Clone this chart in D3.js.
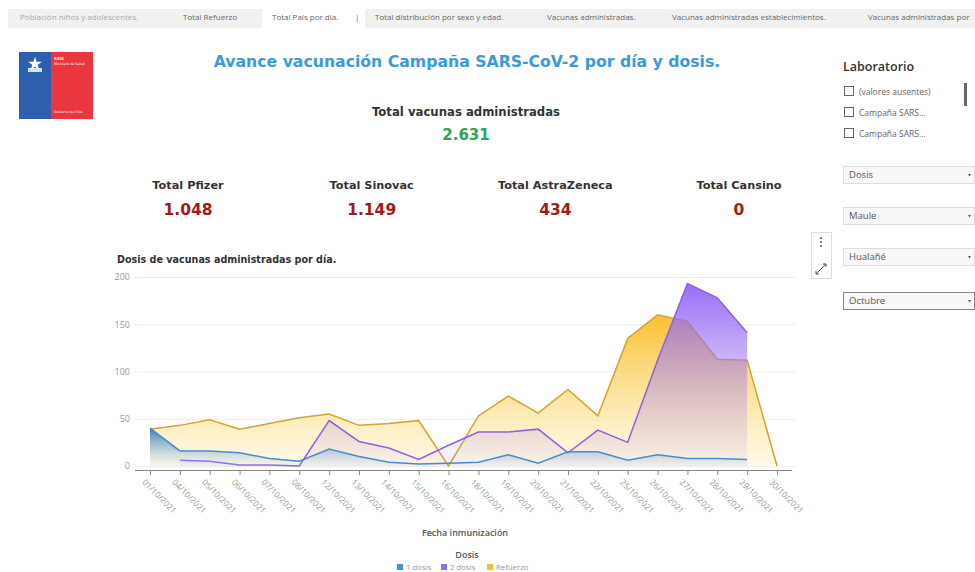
<!DOCTYPE html>
<html>
<head>
<meta charset="utf-8">
<script src="https://cdn.jsdelivr.net/npm/d3@7"></script>
<style>
  body { margin: 0; background: #fff; }
  svg { display: block; }
</style>
</head>
<body>
<svg id="page" width="975" height="572"></svg>
<script>
// Fechas con registros (eje categórico)
const fechas = ["01/10/2021", "04/10/2021", "05/10/2021", "06/10/2021", "07/10/2021", "08/10/2021",
  "12/10/2021", "13/10/2021", "14/10/2021", "15/10/2021", "16/10/2021", "18/10/2021", "19/10/2021",
  "20/10/2021", "21/10/2021", "22/10/2021", "25/10/2021", "26/10/2021", "27/10/2021", "28/10/2021",
  "29/10/2021", "30/10/2021"];

// Dosis por día (null = sin dato)
const dosis1 = [40, 16, 16, 14, 8, 5, 18, 10, 4, 2, 3, 4, 12, 3, 15, 15, 6, 12, 8, 8, 7, null];
const dosis2 = [null, 6, 5, 1, 1, 0, 48, 26, 19, 7, 22, 36, 36, 39, 14, 38, 25, 112, 193, 178, 141, null];
const refuerzo = [39, 43, 49, 39, 45, 51, 55, 43, 45, 48, 0, 53, 74, 56, 81, 53, 135, 160, 153, 113, 112, 0];

const yTicks = [0, 50, 100, 150, 200];

const kpiLabels = ["Total Pfizer", "Total Sinovac", "Total AstraZeneca", "Total Cansino"];
const kpiValues = ["1.048", "1.149", "434", "0"];
const totalVacunas = "2.631";

const tabs = ["Población niños y adolescentes.", "Total Refuerzo", "Total País por día.", "|",
  "Total distribución por sexo y edad.", "Vacunas administradas.",
  "Vacunas administradas establecimientos.", "Vacunas administradas por"];
const tabX = [20, 183, 272, 355, 375, 547, 672, 868];

const laboratorios = ["(valores ausentes)", "Campaña SARS...", "Campaña SARS..."];
const filtros = ["Dosis", "Maule", "Hualañé", "Octubre"];
const filtroY = [166, 207, 248, 292];

const series = [
  { name: "Refuerzo", values: refuerzo, line: "#d4a42e", top: "#f8bd24", bottom: "#fff6d8", op0: 0.95, op1: 0.6 },
  { name: "2 dosis", values: dosis2, line: "#9060e4", top: "#8b5cf6", bottom: "#b9a0f0", op0: 0.9, op1: 0.08 },
  { name: "1 dosis", values: dosis1, line: "#4a8ccb", top: "#2479c0", bottom: "#a8c8ea", op0: 0.95, op1: 0.1 }
];
const legendItems = [
  { name: "1 dosis", color: "#4a90d9" },
  { name: "2 dosis", color: "#8e6cef" },
  { name: "Refuerzo", color: "#f5bf2e" }
];

const svg = d3.select("#page");
const defs = svg.append("defs");

// --- barra de pestañas ---
svg.append("rect").attr("x", 8).attr("y", 9).attr("width", 967).attr("height", 19).attr("fill", "#f1f1f1");
svg.append("rect").attr("x", 262).attr("y", 9).attr("width", 103).attr("height", 19).attr("fill", "#fff");
svg.selectAll("text.tab").data(tabs).join("text")
  .attr("class", "tab")
  .attr("x", (d, i) => tabX[i])
  .attr("y", 20)
  .attr("font-family", "Open Sans, sans-serif")
  .attr("font-size", 8)
  .attr("fill", (d, i) => i === 0 ? "#aaa" : "#666")
  .text(d => d);

// --- logo ---
const logo = svg.append("g").attr("transform", "translate(19,52)");
logo.append("rect").attr("width", 32).attr("height", 67).attr("fill", "#2c5fae");
logo.append("rect").attr("x", 32).attr("width", 42).attr("height", 67).attr("fill", "#e9363f");
logo.append("path")
  .attr("d", d3.symbol(d3.symbolStar, 60)())
  .attr("transform", "translate(16,12)")
  .attr("fill", "#fff");
logo.append("rect").attr("x", 9).attr("y", 16).attr("width", 14).attr("height", 4).attr("fill", "#fff").attr("opacity", 0.8);
logo.append("text").attr("x", 35).attr("y", 8).attr("font-size", 4).attr("font-family", "DejaVu Sans")
  .attr("font-weight", "bold").attr("fill", "#fff").text("SEIS");
logo.append("text").attr("x", 35).attr("y", 13).attr("font-size", 3.2).attr("font-family", "DejaVu Sans")
  .attr("fill", "#fff").text("Ministerio de Salud");
logo.append("text").attr("x", 35).attr("y", 61).attr("font-size", 3.2).attr("font-family", "DejaVu Sans")
  .attr("fill", "#fff").text("Gobierno de Chile");

// --- títulos y KPIs ---
svg.append("text").attr("x", 467).attr("y", 67).attr("text-anchor", "middle")
  .attr("font-family", "DejaVu Sans, Verdana, sans-serif").attr("font-weight", "bold")
  .attr("font-size", 15.7).attr("fill", "#3b9ad9")
  .text("Avance vacunación Campaña SARS-CoV-2 por día y dosis.");

svg.append("text").attr("x", 466).attr("y", 116).attr("text-anchor", "middle")
  .attr("font-family", "DejaVu Sans, sans-serif").attr("font-weight", "bold")
  .attr("font-size", 11.7).attr("fill", "#333").text("Total vacunas administradas");
svg.append("text").attr("x", 466).attr("y", 140).attr("text-anchor", "middle")
  .attr("font-family", "DejaVu Sans, sans-serif").attr("font-weight", "bold")
  .attr("font-size", 15).attr("fill", "#2aa65a").text(totalVacunas);

const kpiX = d3.scalePoint().domain(kpiLabels).range([188, 739]);
svg.selectAll("text.kpi-label").data(kpiLabels).join("text")
  .attr("class", "kpi-label")
  .attr("x", d => kpiX(d)).attr("y", 189).attr("text-anchor", "middle")
  .attr("font-family", "DejaVu Sans, sans-serif").attr("font-weight", "bold")
  .attr("font-size", 11.3).attr("fill", "#333").text(d => d);
svg.selectAll("text.kpi-value").data(kpiValues).join("text")
  .attr("class", "kpi-value")
  .attr("x", (d, i) => kpiX(kpiLabels[i])).attr("y", 215).attr("text-anchor", "middle")
  .attr("font-family", "DejaVu Sans, sans-serif").attr("font-weight", "bold")
  .attr("font-size", 15.5).attr("fill", "#a51818").text(d => d);

// --- gráfico de áreas ---
svg.append("text").attr("x", 117).attr("y", 263)
  .attr("font-family", "DejaVu Sans, sans-serif").attr("font-weight", "bold")
  .attr("font-size", 9.6).attr("fill", "#333").text("Dosis de vacunas administradas por día.");

const x = d3.scalePoint().domain(fechas).range([150, 777]);
const y = d3.scaleLinear().domain([0, 200]).range([466, 277]);

const gridG = svg.append("g").attr("transform", "translate(135,0)")
  .call(d3.axisLeft(y).tickValues(yTicks).tickSize(-660).tickPadding(5));
gridG.select(".domain").remove();
gridG.selectAll(".tick line").attr("stroke", "#ececec");
gridG.selectAll(".tick text").attr("fill", "#9a9a9a").attr("font-size", 9)
  .attr("font-family", "Open Sans, sans-serif");

series.forEach((s, k) => {
  const grad = defs.append("linearGradient").attr("id", "g" + k)
    .attr("x1", 0).attr("y1", 0).attr("x2", 0).attr("y2", 1);
  grad.append("stop").attr("offset", 0).attr("stop-color", s.top).attr("stop-opacity", s.op0);
  grad.append("stop").attr("offset", 1).attr("stop-color", s.bottom).attr("stop-opacity", s.op1);

  const pts = fechas.map((f, i) => ({ f, v: s.values[i] }));
  const area = d3.area().defined(d => d.v !== null)
    .x(d => x(d.f)).y0(y(0)).y1(d => y(d.v));
  const line = d3.line().defined(d => d.v !== null)
    .x(d => x(d.f)).y(d => y(d.v));
  svg.append("path").datum(pts).attr("d", area).attr("fill", `url(#g${k})`);
  svg.append("path").datum(pts).attr("d", line).attr("fill", "none")
    .attr("stroke", s.line).attr("stroke-width", 1.5);
});

const xAxis = svg.append("g").attr("transform", "translate(0,470)")
  .call(d3.axisBottom(x).tickSize(5).tickSizeOuter(0));
xAxis.select(".domain").attr("d", "M135,0.5H792").attr("stroke", "#888");
xAxis.selectAll(".tick line").attr("stroke", "#888");
xAxis.selectAll(".tick text")
  .attr("fill", "#9a9a9a").attr("font-size", 8.3).attr("font-family", "Open Sans, sans-serif")
  .attr("text-anchor", "start")
  .attr("transform", "translate(1,3) rotate(45)");

svg.append("text").attr("x", 465).attr("y", 536).attr("text-anchor", "middle")
  .attr("font-family", "Open Sans, sans-serif").attr("font-weight", "600")
  .attr("font-size", 9).attr("fill", "#555").text("Fecha inmunización");

// leyenda
svg.append("text").attr("x", 467).attr("y", 558).attr("text-anchor", "middle")
  .attr("font-family", "Open Sans, sans-serif").attr("font-weight", "600")
  .attr("font-size", 9).attr("fill", "#555").text("Dosis");
const legX = d3.scaleOrdinal().domain(legendItems.map(d => d.name)).range([397, 441, 487]);
const leg = svg.selectAll("g.leg").data(legendItems).join("g")
  .attr("class", "leg").attr("transform", d => `translate(${legX(d.name)},564)`);
leg.append("rect").attr("width", 6).attr("height", 6).attr("fill", d => d.color);
leg.append("text").attr("x", 9).attr("y", 6).attr("font-size", 7.8)
  .attr("font-family", "Open Sans, sans-serif").attr("fill", "#999").text(d => d.name);

// --- caja de herramientas del visual ---
svg.append("rect").attr("x", 811.5).attr("y", 232.5).attr("width", 20).attr("height", 46)
  .attr("fill", "#fff").attr("stroke", "#ddd");
svg.selectAll("circle.dot").data([0, 1, 2]).join("circle")
  .attr("class", "dot").attr("cx", 821).attr("cy", d => 238 + d * 4).attr("r", 1).attr("fill", "#555");
svg.append("path").attr("d", "M816,274 L826,264 M816,274 l0,-3 M816,274 l3,0 M826,264 l-3,0 M826,264 l0,3")
  .attr("stroke", "#555").attr("fill", "none").attr("stroke-width", 1);

// --- panel de filtros ---
svg.append("text").attr("x", 843).attr("y", 71)
  .attr("font-family", "Open Sans, sans-serif").attr("font-weight", "600")
  .attr("font-size", 12.5).attr("fill", "#333").text("Laboratorio");
const lab = svg.selectAll("g.lab").data(laboratorios).join("g")
  .attr("class", "lab").attr("transform", (d, i) => `translate(844,${86 + i * 21})`);
lab.append("rect").attr("x", 0.5).attr("y", 0.5).attr("width", 9).attr("height", 9)
  .attr("fill", "#fff").attr("stroke", "#666");
lab.append("text").attr("x", 15).attr("y", 8.5).attr("font-size", 8.5)
  .attr("font-family", "Open Sans, sans-serif").attr("fill", "#666").text(d => d);
svg.append("rect").attr("x", 964).attr("y", 83).attr("width", 3).attr("height", 23).attr("fill", "#666");

const drop = svg.selectAll("g.drop").data(filtros).join("g")
  .attr("class", "drop").attr("transform", (d, i) => `translate(843,${filtroY[i]})`);
drop.append("rect").attr("x", 0.5).attr("y", 0.5).attr("width", 131).attr("height", 17)
  .attr("fill", "#f8f8f8").attr("stroke", (d, i) => i === 3 ? "#888" : "#ddd");
drop.append("text").attr("x", 6).attr("y", 12).attr("font-size", 9.5)
  .attr("font-family", "Open Sans, sans-serif").attr("fill", "#555").text(d => d);
drop.append("path").attr("d", "M125,8 l3,0 l-1.5,2.5z").attr("fill", "#555");
</script>
</body>
</html>
